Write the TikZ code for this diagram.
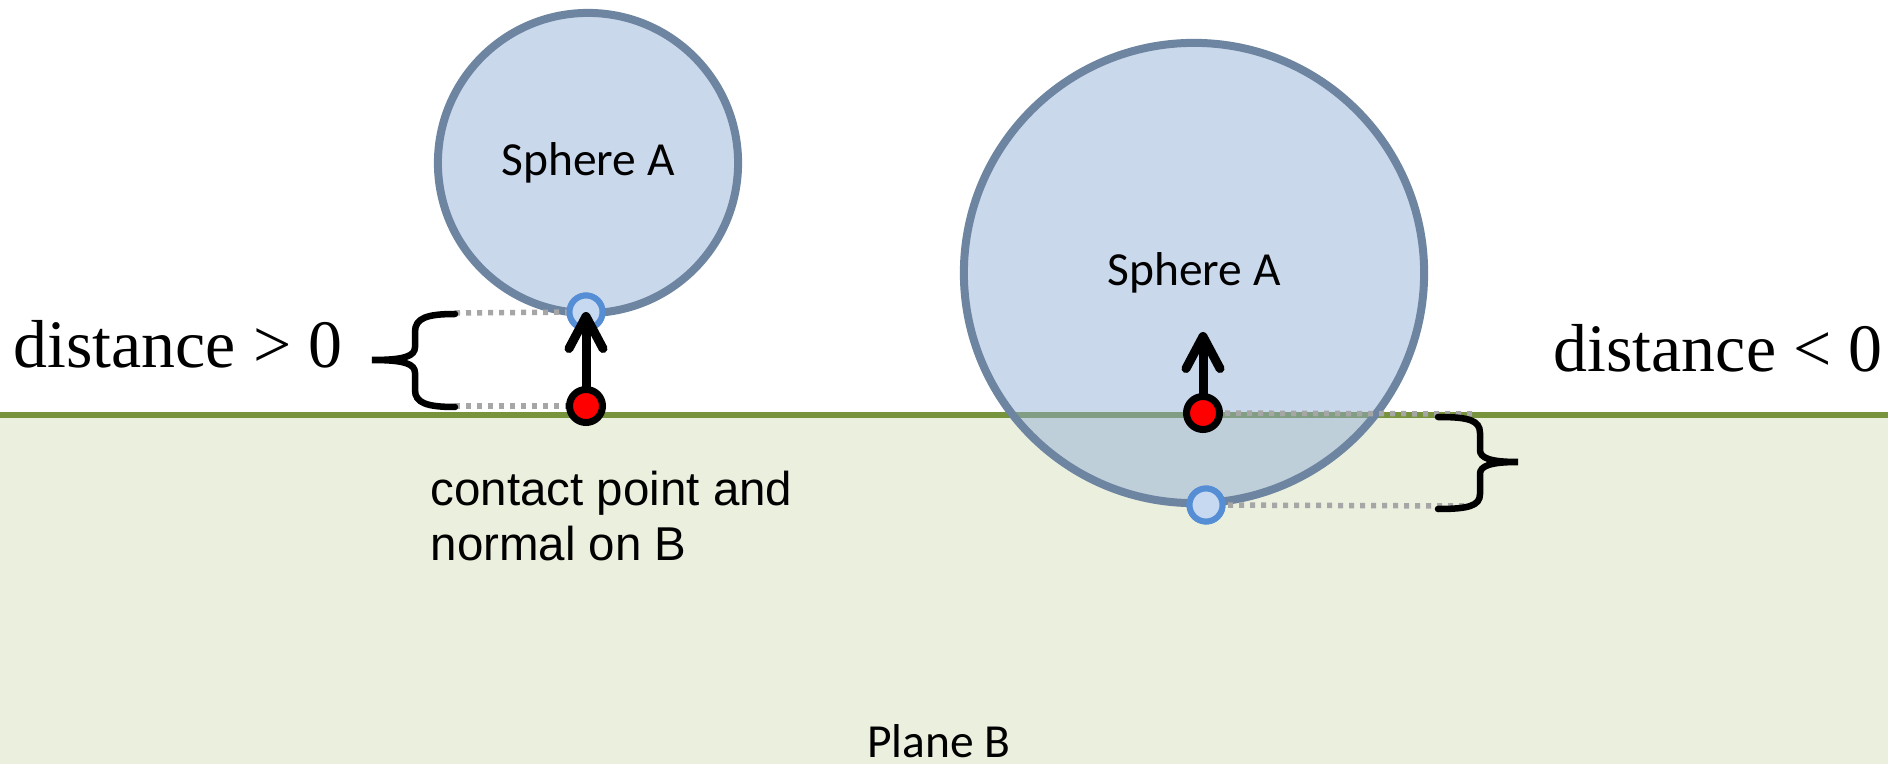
\documentclass[tikz,border=0pt]{standalone}
\usepackage{fontspec}
\newfontfamily\seriffont{Liberation Serif}
\newfontfamily\calibrifont{Carlito}
\newfontfamily\arialfont{Liberation Sans}
\usetikzlibrary{arrows.meta}

\definecolor{planefill}{RGB}{235,239,222}
\definecolor{planeline}{RGB}{119,147,60}
\definecolor{spherefill}{RGB}{142,172,215}
\definecolor{sphereedge}{RGB}{109,133,160}
\definecolor{pointblue}{RGB}{85,142,213}
\definecolor{pointfill}{RGB}{198,217,240}
\definecolor{gapgrey}{RGB}{166,166,166}

\begin{document}
\begin{tikzpicture}[
    x=0.01cm, y=0.01cm,
    >={Straight Barb[length=0.32cm, width=0.34cm, round]},
    spherestyle/.style={circle, draw=sphereedge, fill=spherefill, fill opacity=0.47,
        text opacity=1, line width=0.08cm, inner sep=0pt,
        font=\calibrifont\fontsize{13.5}{16}\selectfont},
    pointA/.style={circle, draw=pointblue, fill=pointfill, line width=0.06cm,
        minimum size=0.33cm, inner sep=0pt},
    pointB/.style={circle, draw=black, fill=red, line width=0.07cm,
        minimum size=0.33cm, inner sep=0pt},
    normal/.style={->, line width=0.09cm, line cap=round},
    gapline/.style={draw=gapgrey, line width=0.055cm, dash pattern=on 0.05cm off 0.06cm},
    bracestyle/.style={line width=0.065cm, line cap=round},
    bigtext/.style={inner sep=0pt, font=\seriffont\fontsize{19.3}{23}\selectfont},
    smalltext/.style={inner sep=0pt, font=\calibrifont\fontsize{13.5}{16}\selectfont}
  ]
    \useasboundingbox (0,0) rectangle (1888,-764);
    % plane B
    \fill[planefill] (0,-415) rectangle (1888,-764);
    \draw[planeline, line width=0.06cm] (0,-415) -- (1888,-415);
    % spheres
    \node[spherestyle, minimum size=3.0cm] (sphereL) at (588,-163) {Sphere A};
    \node[spherestyle, minimum size=4.6cm] (sphereR) at (1194,-273) {Sphere A};
    \coordinate (cpL) at (586,-406);
    \coordinate (cpR) at (1203,-413);
    \coordinate (tipR) at (1203,-332);
    \coordinate (gapLtop) at (455,-313);
    \coordinate (gapLbot) at (455,-406);
    \coordinate (gapRtop) at (1475,-414);
    \coordinate (gapRbot) at (1465,-506);
    % distance guides
    \node[pointA] (ptL) at (586,-312) {};
    \node[pointA] (ptR) at (1206,-505) {};
    \draw[gapline] (gapLtop) -- (ptL.center);
    \draw[gapline] (gapLbot) -- (cpL);
    \draw[gapline] (cpR) -- (gapRtop);
    \draw[gapline] (ptR.center) -- (gapRbot);
    \node[pointA] at (ptL) {};
    \node[pointA] at (ptR) {};
    % braces
    \draw[bracestyle] (455,-314) .. controls (427,-314) and (415,-318) .. (415,-332)
        -- (415,-347) .. controls (415,-356) and (405,-360) .. (372,-360)
        .. controls (405,-360) and (415,-364) .. (415,-373)
        -- (415,-390) .. controls (415,-403) and (427,-407) .. (455,-407);
    \draw[bracestyle] (1438,-417) .. controls (1468,-417) and (1480,-420) .. (1480,-433)
        -- (1480,-450) .. controls (1480,-458) and (1490,-462) .. (1518,-462)
        .. controls (1490,-462) and (1480,-466) .. (1480,-474)
        -- (1480,-494) .. controls (1480,-506) and (1468,-509) .. (1438,-509);
    % normals
    \draw[normal] (cpL) -- (ptL.center);
    \draw[normal] (cpR) -- (tipR);
    \node[pointB] (cpLdot) at (cpL) {};
    \node[pointB] (cpRdot) at (cpR) {};
    % labels
    \node[bigtext, anchor=base west] (distpos) at (13,-368) {distance > 0};
    \node[bigtext, anchor=base west] (distneg) at (1553,-372) {distance < 0};
    \node[inner sep=0pt, anchor=base west, align=left,
        font=\arialfont\fontsize{13.5}{15.6}\selectfont] (contactlbl) at (430,-560)
        {contact point and\\normal on B};
    \node[smalltext, anchor=base] (planelbl) at (939,-757) {Plane B};
  \end{tikzpicture}
\end{document}
